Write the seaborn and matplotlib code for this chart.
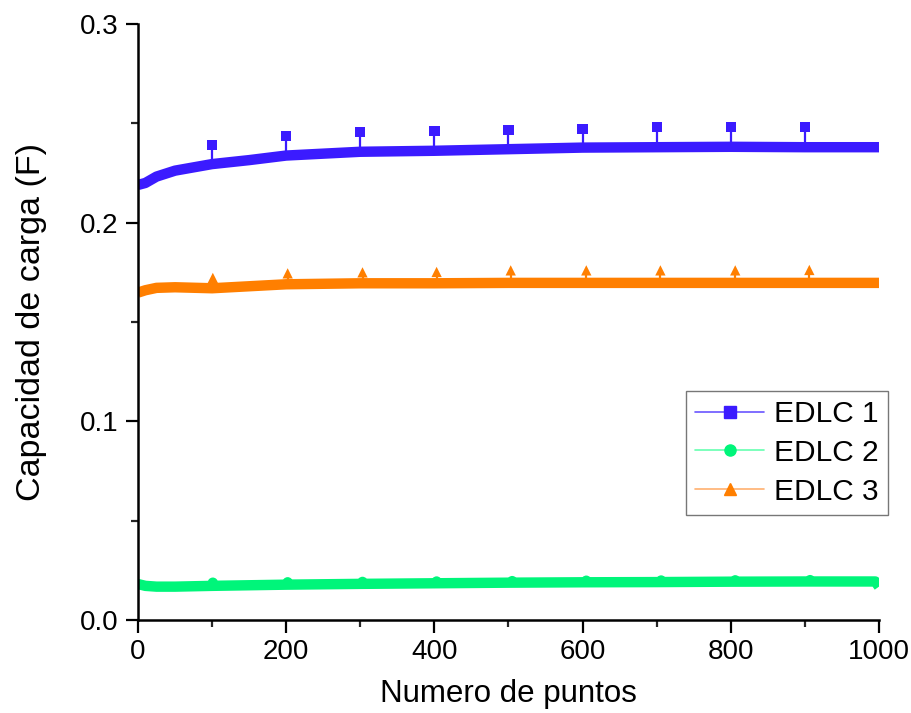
import matplotlib
matplotlib.use("Agg")
import matplotlib.pyplot as plt
import seaborn as sns
import pandas as pd
import numpy as np
from matplotlib.lines import Line2D

# ---- data ----
line_x = [0, 10, 25, 50, 100, 150, 200, 300, 400, 500, 600, 700, 800, 900, 995, 1000]
edlc1_line = [0.2190, 0.2200, 0.2232, 0.2262, 0.2295, 0.2315, 0.2338, 0.2357, 0.2362, 0.2370, 0.2378, 0.2380, 0.2382, 0.2380, 0.2380, 0.2380]
edlc2_line = [0.0181, 0.0172, 0.0168, 0.0168, 0.0172, 0.0175, 0.0178, 0.0182, 0.0185, 0.0188, 0.0190, 0.0191, 0.0193, 0.0194, 0.0194, 0.0168]
edlc3_line = [0.1648, 0.1660, 0.1672, 0.1675, 0.1670, 0.1680, 0.1690, 0.1695, 0.1695, 0.1697, 0.1697, 0.1697, 0.1697, 0.1697, 0.1697, 0.1697]

edlc1_mx = [100, 200, 300, 400, 500, 600, 700, 800, 900]
edlc1_my = [0.2390, 0.2436, 0.2458, 0.2462, 0.2468, 0.2473, 0.2480, 0.2483, 0.2480]
edlc2_mx = [101, 202, 303, 403, 505, 605, 706, 806, 907]
edlc2_my = [0.0188, 0.0190, 0.0192, 0.0194, 0.0196, 0.0198, 0.0199, 0.0200, 0.0201]
edlc3_mx = [101, 202, 303, 403, 503, 605, 705, 806, 906]
edlc3_my = [0.1722, 0.1745, 0.1750, 0.1752, 0.1760, 0.1760, 0.1760, 0.1760, 0.1762]

labels = ["EDLC 1", "EDLC 2", "EDLC 3"]
colors = ["#3B1BFF", "#00F57A", "#FF7F00"]
legend_line_colors = ["#6A55FF", "#66FFB0", "#FFB070"]
markers = ["s", "o", "^"]

sns.set_style("white")
plt.rcParams["font.family"] = ["Liberation Sans", "DejaVu Sans"]
plt.rcParams["text.color"] = "black"
plt.rcParams["axes.labelcolor"] = "black"

fig = plt.figure(figsize=(9.12, 7.13), dpi=100)
ax = fig.add_axes([0.1513, 0.1304, 0.8125, 0.8359])

df = pd.DataFrame({
    "x": line_x * 3,
    "y": edlc1_line + edlc2_line + edlc3_line,
    "serie": [labels[0]] * len(line_x) + [labels[1]] * len(line_x) + [labels[2]] * len(line_x),
})
sns.lineplot(data=df, x="x", y="y", hue="serie", palette=dict(zip(labels, colors)),
             linewidth=7.5, legend=False, ax=ax, solid_capstyle="butt", zorder=2)

marker_sets = [(edlc1_mx, edlc1_my), (edlc2_mx, edlc2_my), (edlc3_mx, edlc3_my)]
line_sets = [edlc1_line, edlc2_line, edlc3_line]
for (mx, my), ln, c, m in zip(marker_sets, line_sets, colors, markers):
    base = np.interp(mx, line_x, ln)
    ax.vlines(mx, base, my, colors=c, linewidth=1.6, zorder=3)
    ax.scatter(mx, my, marker=m, s=55, color=c, edgecolors="none", zorder=4)

ax.set_xlim(0, 1000)
ax.set_ylim(0, 0.3)
ax.set_xticks([0, 200, 400, 600, 800, 1000])
ax.set_xticks([100, 300, 500, 700, 900], minor=True)
ax.set_yticks([0.0, 0.1, 0.2, 0.3])
ax.set_yticklabels(["0.0", "0.1", "0.2", "0.3"])
ax.set_yticks([0.05, 0.15, 0.25], minor=True)

for s in ["top", "right"]:
    ax.spines[s].set_visible(False)
for s in ["left", "bottom"]:
    ax.spines[s].set_linewidth(1.8)
    ax.spines[s].set_color("black")

ax.tick_params(axis="both", which="major", direction="out", length=9, width=1.6,
               labelsize=20, colors="black", pad=5, left=True, bottom=True)
ax.tick_params(axis="both", which="minor", direction="out", length=5, width=1.6,
               left=True, bottom=True)
ax.set_xlabel("Numero de puntos", fontsize=22.5, labelpad=10)
ax.set_ylabel("Capacidad de carga (F)", fontsize=24.5, labelpad=24)
ax.grid(False)

handles = [Line2D([0], [0], color=lc, lw=1.2, marker=m, markersize=8,
                  markerfacecolor=c, markeredgecolor=c)
           for lc, c, m in zip(legend_line_colors, colors, markers)]
leg = ax.legend(handles, labels, loc="upper right", bbox_to_anchor=(1.012, 0.384),
                fontsize=21.5, frameon=True, fancybox=False, handlelength=2.3,
                handletextpad=0.35, borderpad=0.3, labelspacing=0.36, borderaxespad=0)
leg.get_frame().set_edgecolor("#555555")
leg.get_frame().set_linewidth(1.0)

fig.savefig("out.png", dpi=100)
